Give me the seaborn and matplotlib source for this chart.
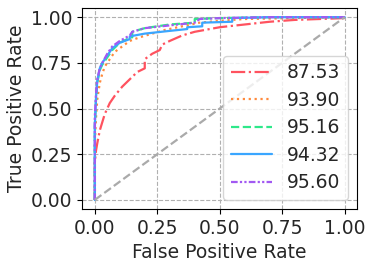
import numpy as np
import pandas as pd
import seaborn as sns
import matplotlib.pyplot as plt

# ROC points (fpr, tpr) per model
labels = ['87.53', '93.90', '95.16', '94.32', '95.60']

fpr_a = [0.0, 0.0, 0.005, 0.01, 0.02, 0.04, 0.06, 0.08, 0.11, 0.14, 0.17, 0.2, 0.2, 0.23, 0.26, 0.27, 0.3, 0.35, 0.4, 0.5, 0.6, 0.7, 0.8, 0.9, 1.0]
tpr_a = [0.0, 0.2, 0.27, 0.31, 0.38, 0.47, 0.53, 0.57, 0.62, 0.66, 0.70, 0.72, 0.77, 0.80, 0.82, 0.85, 0.87, 0.90, 0.92, 0.945, 0.96, 0.975, 0.985, 0.99, 0.995]

fpr_b = [0.0, 0.0, 0.005, 0.01, 0.02, 0.03, 0.04, 0.06, 0.08, 0.11, 0.14, 0.18, 0.23, 0.28, 0.35, 0.42, 0.5, 0.6, 0.8, 1.0]
tpr_b = [0.0, 0.3, 0.45, 0.55, 0.64, 0.69, 0.73, 0.77, 0.81, 0.84, 0.87, 0.89, 0.91, 0.93, 0.95, 0.97, 0.98, 0.99, 0.995, 1.0]

fpr_c = [0.0, 0.0, 0.005, 0.01, 0.02, 0.03, 0.05, 0.07, 0.1, 0.13, 0.15, 0.15, 0.2, 0.3, 0.4, 0.4, 0.5, 0.7, 1.0]
tpr_c = [0.0, 0.4, 0.55, 0.64, 0.71, 0.74, 0.78, 0.82, 0.86, 0.88, 0.89, 0.92, 0.94, 0.96, 0.97, 0.99, 0.995, 1.0, 1.0]

fpr_d = [0.0, 0.0, 0.005, 0.01, 0.02, 0.03, 0.05, 0.07, 0.1, 0.14, 0.14, 0.2, 0.3, 0.37, 0.37, 0.43, 0.43, 0.55, 0.55, 0.7, 1.0]
tpr_d = [0.0, 0.4, 0.56, 0.65, 0.72, 0.75, 0.79, 0.83, 0.86, 0.88, 0.895, 0.91, 0.925, 0.935, 0.945, 0.95, 0.97, 0.975, 0.995, 1.0, 1.0]

fpr_e = [0.0, 0.0, 0.005, 0.01, 0.02, 0.03, 0.05, 0.07, 0.1, 0.14, 0.15, 0.2, 0.3, 0.4, 0.42, 0.5, 0.7, 1.0]
tpr_e = [0.0, 0.45, 0.58, 0.66, 0.72, 0.75, 0.80, 0.84, 0.87, 0.90, 0.92, 0.94, 0.955, 0.97, 0.99, 0.995, 1.0, 1.0]

colors = ['#ff525f', '#ff8a3d', '#2ee88a', '#3aa6ff', '#a259f2']
styles = ['-.', ':', '--', '-', (0, (3, 1, 1, 1, 1, 1))]

curves = [(fpr_a, tpr_a), (fpr_b, tpr_b), (fpr_c, tpr_c), (fpr_d, tpr_d), (fpr_e, tpr_e)]

sns.set_style('ticks')
plt.rcParams['font.family'] = ['DejaVu Sans']

fig, ax = plt.subplots(figsize=(3.74, 2.68), dpi=100)
for (fx, ty), lab, col, ls in zip(curves, labels, colors, styles):
    df = pd.DataFrame({'fpr': fx, 'tpr': ty})
    sns.lineplot(data=df, x='fpr', y='tpr', sort=False, estimator=None,
                 color=col, linestyle=ls, linewidth=1.6, label=lab, ax=ax)

diag = pd.DataFrame({'fpr': [0, 1], 'tpr': [0, 1]})
sns.lineplot(data=diag, x='fpr', y='tpr', color='#aaaaaa', linestyle='--',
             linewidth=1.6, ax=ax, legend=False)

ax.set_xticks([0, 0.25, 0.5, 0.75, 1.0])
ax.set_yticks([0, 0.25, 0.5, 0.75, 1.0])
ax.set_xticklabels(['0.00', '0.25', '0.50', '0.75', '1.00'])
ax.set_yticklabels(['0.00', '0.25', '0.50', '0.75', '1.00'])
ax.tick_params(labelsize=13.5, color='black')
ax.grid(True, linestyle='--', color='#b0b0b0', linewidth=0.8)
ax.set_xlabel('False Positive Rate', fontsize=13.5)
ax.set_ylabel('True Positive Rate', fontsize=13.5)
for s in ax.spines.values():
    s.set_color('black')
ax.legend(loc='lower right', fontsize=13.5, handlelength=2.2, labelspacing=0.45)

plt.subplots_adjust(left=0.22, right=0.955, top=0.97, bottom=0.22)
plt.savefig('out.png', dpi=100)
